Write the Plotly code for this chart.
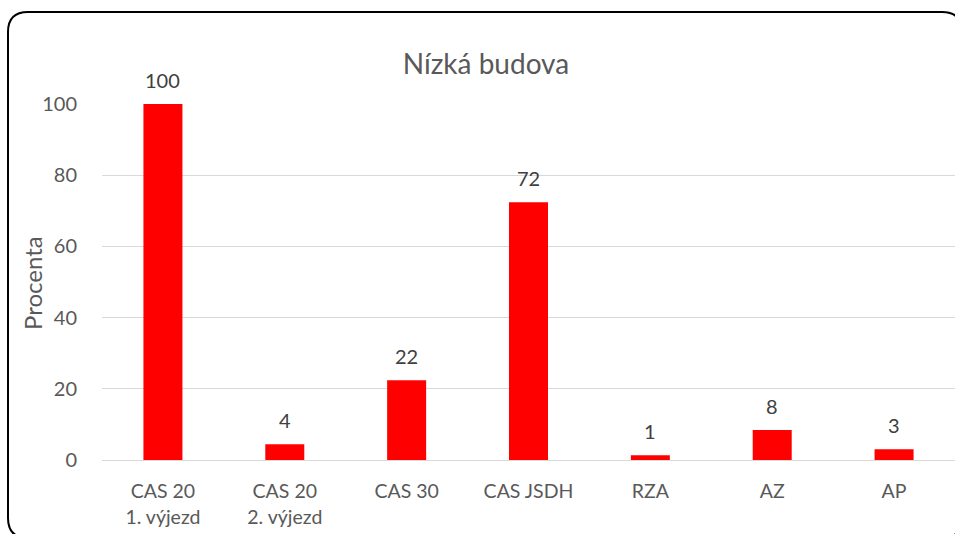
import plotly.graph_objects as go

categories = ["CAS 20<br>1. výjezd", "CAS 20<br>2. výjezd", "CAS 30", "CAS JSDH", "RZA", "AZ", "AP"]
values = [100, 4.4, 22.4, 72.4, 1.3, 8.4, 3.0]
labels = ["100", "4", "22", "72", "1", "8", "3"]
y_ticks = [0, 20, 40, 60, 80, 100]

W, H = 955, 534
L, R, T, B = 102, 0, 104, 74
pw, ph = W - L - R, H - T - B

def px(x):
    return (x - L) / pw

def py(y):
    return (H - B - y) / ph

# rounded frame
x0, y0, x1, y1, r = 8, 12, 962, 538, 20
path = (
    f"M {px(x0)},{py(y1 - r)} "
    f"L {px(x0)},{py(y0 + r)} "
    f"Q {px(x0)},{py(y0)} {px(x0 + r)},{py(y0)} "
    f"L {px(x1 - r)},{py(y0)} "
    f"Q {px(x1)},{py(y0)} {px(x1)},{py(y0 + r)} "
    f"L {px(x1)},{py(y1 - r)} "
    f"Q {px(x1)},{py(y1)} {px(x1 - r)},{py(y1)} "
    f"L {px(x0 + r)},{py(y1)} "
    f"Q {px(x0)},{py(y1)} {px(x0)},{py(y1 - r)} Z"
)

font = "Lato, 'Open Sans', sans-serif"

fig = go.Figure(
    go.Bar(
        x=categories,
        y=values,
        marker=dict(color="#ff0000", line=dict(width=0)),
        width=0.32,
        hoverinfo="skip",
    )
)

annotations = [
    dict(
        x=c, y=v, xref="x", yref="y", text=t, showarrow=False,
        yanchor="middle", xanchor="center", yshift=24,
        font=dict(family=font, size=20, color="#404040"),
    )
    for c, v, t in zip(categories, values, labels)
]
annotations.append(
    dict(
        x=px(32), y=py(283), xref="paper", yref="paper", text="Procenta",
        showarrow=False, textangle=-90, xanchor="center", yanchor="middle",
        font=dict(family=font, size=24, color="#595959"),
    )
)

fig.update_layout(
    width=W,
    height=H,
    margin=dict(l=L, r=R, t=T, b=B),
    paper_bgcolor="white",
    plot_bgcolor="white",
    showlegend=False,
    annotations=annotations,
    title=dict(
        text="Nízká budova",
        x=(400 + 572) / 2 / W,
        xanchor="center",
        xref="container",
        y=1 - 64 / H,
        yanchor="middle",
        yref="container",
        font=dict(family=font, size=28, color="#595959"),
    ),
    shapes=[
        dict(
            type="path",
            xref="paper",
            yref="paper",
            path=path,
            line=dict(color="black", width=2),
            fillcolor="rgba(0,0,0,0)",
            layer="above",
        )
    ],
)

fig.update_xaxes(
    showgrid=False,
    showline=False,
    ticks="outside",
    ticklen=14,
    tickcolor="rgba(0,0,0,0)",
    tickfont=dict(family=font, size=19.5, color="#595959"),
    fixedrange=True,
)
fig.update_yaxes(
    range=[0, 100],
    tickvals=y_ticks,
    showgrid=True,
    gridcolor="#d9d9d9",
    gridwidth=1,
    zeroline=True,
    zerolinecolor="#d9d9d9",
    zerolinewidth=1,
    showline=False,
    ticks="outside",
    ticklen=20,
    tickcolor="rgba(0,0,0,0)",
    tickfont=dict(family=font, size=20, color="#595959"),
    fixedrange=True,
)

fig.write_html(
    "out.html",
    config={"displayModeBar": False},
    post_script="document.body.style.margin='0';document.body.style.overflow='hidden';",
)
